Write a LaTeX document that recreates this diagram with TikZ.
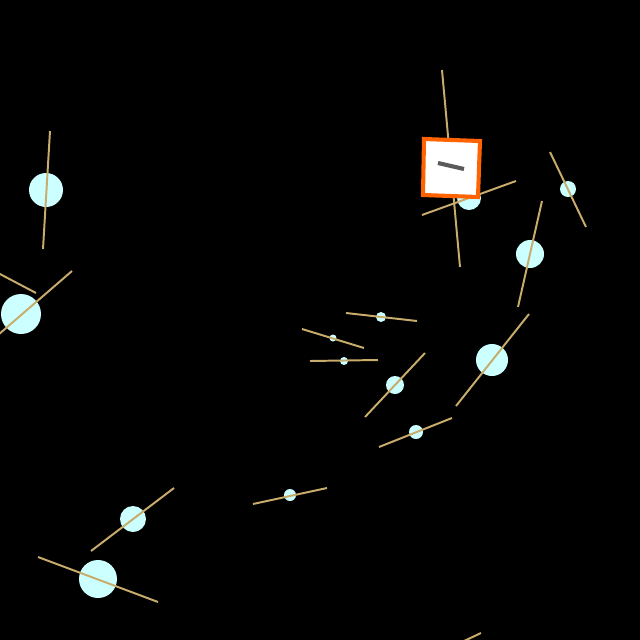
\documentclass[tikz,border=0pt]{standalone}
\definecolor{ballcyan}{HTML}{CCFFFF}
\definecolor{rodtan}{HTML}{C8AC6C}
\definecolor{boxorange}{HTML}{FF6200}
\definecolor{markgray}{HTML}{5A5A5A}
\tikzset{
  ball/.style={fill=ballcyan},
  rod/.style={draw=rodtan,line width=1.4pt},
  crate/.style={draw=boxorange,fill=white,line width=2.9pt,line join=miter},
}
\begin{document}
\begin{tikzpicture}[x=0.025cm,y=-0.025cm]
			% Canvas
			\fill[black] (0,0) rectangle (640,640);
			\useasboundingbox (0,0) rectangle (640,640);
			\clip (0,0) rectangle (640,640);
			
			% Balls
			\fill[ball] (46,190) circle (17);
			\fill[ball] (21,314) circle (20);
			\fill[ball] (469,198) circle (12);
			\fill[ball] (568,189) circle (8);
			\fill[ball] (530,254) circle (14);
			\fill[ball] (492,360) circle (16);
			\fill[ball] (381,317) circle (5);
			\fill[ball] (333,338) circle (3.5);
			\fill[ball] (344,361) circle (4);
			\fill[ball] (395,385) circle (9);
			\fill[ball] (416,432) circle (7);
			\fill[ball] (133,519) circle (13);
			\fill[ball] (98,579) circle (19);
			\fill[ball] (290,495) circle (6);
			
			% Rods
			\draw[rod] (50,131) -- (43,249);
			\draw[rod] (72,271) -- (-2,335);
			\draw[rod] (-2,273) -- (36,293);
			\draw[rod] (442,70) -- (460,267);
			\draw[rod] (422,215) -- (516,181);
			\draw[rod] (550,152) -- (586,227);
			\draw[rod] (542,201) -- (518,307);
			\draw[rod] (529,314) -- (456,406);
			\draw[rod] (346,313) -- (417,321);
			\draw[rod] (302,329) -- (364,348);
			\draw[rod] (310,361) -- (378,360);
			\draw[rod] (425,353) -- (365,417);
			\draw[rod] (452,418) -- (379,447);
			\draw[rod] (174,488) -- (91,551);
			\draw[rod] (38,557) -- (158,602);
			\draw[rod] (253,504) -- (327,488);
			\draw[rod] (462,642) -- (481,633);
			
			% Crate
			\draw[crate] (424,139) -- (480,141) -- (478,197) -- (423,195) -- cycle;
			\draw[draw=markgray,line width=2.9pt] (438,163) -- (464,169);
			
\end{tikzpicture}
\end{document}
